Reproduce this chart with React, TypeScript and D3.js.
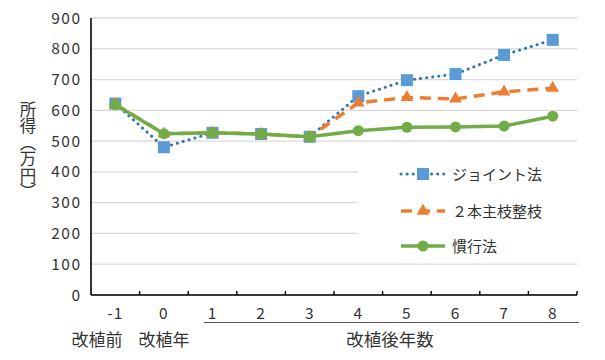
import React from "react";
import * as d3 from "d3";

const categories = ["-1", "0", "1", "2", "3", "4", "5", "6", "7", "8"];
const jointValues = [622, 480, 527, 523, 514, 646, 698, 718, 780, 829];
const twoMainValues = [620, 524, 527, 523, 514, 624, 642, 637, 660, 672];
const conventionalValues = [618, 524, 527, 523, 514, 534, 545, 546, 549, 581];
const yTicks = [0, 100, 200, 300, 400, 500, 600, 700, 800, 900];
const seriesNames = ["ジョイント法", "２本主枝整枝", "慣行法"];

const W = 605, H = 360;
const left = 91, right = 577, top = 18, bottom = 295;
const FONT = "'Noto Sans CJK JP', 'Noto Sans', sans-serif";

export default function App() {
  const x = d3.scaleBand<string>().domain(categories).range([left, right]).padding(0);
  const y = d3.scaleLinear().domain([0, 900]).range([bottom, top]);
  const cx = (c: string) => (x(c) as number) + x.bandwidth() / 2;
  const line = d3.line<number>().x((_, i) => cx(categories[i])).y((v) => y(v));

  const blue = "#2E75B6", blueM = "#5B9BD5", orange = "#ED7D31", green = "#70AD47";
  const tri = d3.symbol().type(d3.symbolTriangle).size(70)();

  const legendItems = [
    { name: seriesNames[0], y: 174 },
    { name: seriesNames[1], y: 211 },
    { name: seriesNames[2], y: 246 },
  ];

  return (
    <svg width={W} height={H} style={{ position: "absolute", left: 0, top: 0, background: "#fff" }} fontFamily={FONT}>
      <rect x={0} y={0} width={W} height={H} fill="#fff" />
      {yTicks.map((t) => (
        <line key={t} x1={left} x2={right} y1={y(t)} y2={y(t)} stroke="#d9d9d9" strokeWidth={1.3} />
      ))}
      {yTicks.map((t) => (
        <text key={"l" + t} x={81.5} y={y(t) + 5.5} textAnchor="end" fontSize={15.5} letterSpacing={1.5} fill="#333">{t}</text>
      ))}
      {/* axes */}
      <line x1={left} x2={left} y1={top} y2={bottom} stroke="#000" strokeWidth={1.6} />
      <line x1={left} x2={right} y1={bottom} y2={bottom} stroke="#000" strokeWidth={1.6} />
      {categories.map((c) => (
        <line key={"t" + c} x1={(x(c) as number) + x.bandwidth()} x2={(x(c) as number) + x.bandwidth()} y1={bottom} y2={bottom - 4} stroke="#000" strokeWidth={1.4} />
      ))}
      {categories.map((c) => (
        <text key={"x" + c} x={cx(c)} y={318.5} textAnchor="middle" fontSize={15.5} letterSpacing={1} fill="#333">{c}</text>
      ))}
      <line x1={204} x2={579} y1={322.5} y2={322.5} stroke="#555" strokeWidth={1} />
      <text x={97} y={346} textAnchor="middle" fontSize={17} fill="#333">改植前</text>
      <text x={cx("0")} y={346} textAnchor="middle" fontSize={17} fill="#333">改植年</text>
      <text x={390} y={346} textAnchor="middle" fontSize={17.5} fill="#333">改植後年数</text>
      {/* y-axis title */}
      <text x={28} y={101} fontSize={16.5} fill="#333" style={{ writingMode: "vertical-rl" } as any}>所得（万円）</text>

      {/* series: joint */}
      <path d={line(jointValues) || ""} fill="none" stroke={blue} strokeWidth={3} strokeDasharray="0.1 6" strokeLinecap="round" />
      {jointValues.map((v, i) => (
        <rect key={"b" + i} x={cx(categories[i]) - 6} y={y(v) - 6} width={12} height={12} fill={blueM} />
      ))}
      {/* two main */}
      <path d={line(twoMainValues) || ""} fill="none" stroke={orange} strokeWidth={3.5} strokeDasharray="11 7" />
      {twoMainValues.map((v, i) => (
        <path key={"o" + i} d={tri || ""} transform={`translate(${cx(categories[i])},${y(v)})`} fill={orange} />
      ))}
      {/* conventional */}
      <path d={line(conventionalValues) || ""} fill="none" stroke={green} strokeWidth={3.5} />
      {conventionalValues.map((v, i) => (
        <circle key={"g" + i} cx={cx(categories[i])} cy={y(v)} r={5.5} fill={green} />
      ))}

      {/* legend */}
      <rect x={358} y={155} width={222} height={100} fill="#fff" />
      <line x1={401} x2={445} y1={legendItems[0].y} y2={legendItems[0].y} stroke={blue} strokeWidth={3} strokeDasharray="0.1 6" strokeLinecap="round" />
      <rect x={417} y={legendItems[0].y - 6} width={12} height={12} fill={blueM} />
      <line x1={401} x2={445} y1={legendItems[1].y} y2={legendItems[1].y} stroke={orange} strokeWidth={3.5} strokeDasharray="11 7" />
      <path d={tri || ""} transform={`translate(423,${legendItems[1].y})`} fill={orange} />
      <line x1={401} x2={445} y1={legendItems[2].y} y2={legendItems[2].y} stroke={green} strokeWidth={3.5} />
      <circle cx={423} cy={legendItems[2].y} r={5.5} fill={green} />
      {legendItems.map((it) => (
        <text key={it.name} x={452} y={it.y + 5.5} fontSize={15} fill="#333">{it.name}</text>
      ))}
    </svg>
  );
}
